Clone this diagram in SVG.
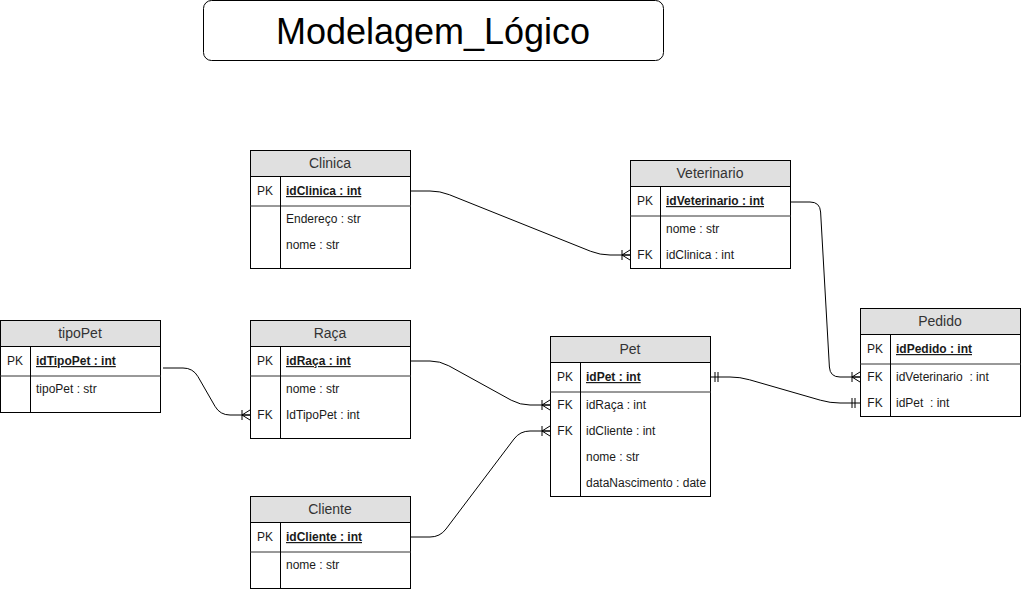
<svg xmlns="http://www.w3.org/2000/svg" width="1021" height="590" viewBox="0 0 1021 590">
<style>
  text { font-family: "Liberation Sans", Arial, sans-serif; fill: #1a1a1a; }
  .box { fill: #ffffff; stroke: #000; stroke-width: 1; }
  .hdr { fill: #e0e0e0; stroke: none; }
  .sep { stroke: #333; stroke-width: 1; fill: none; }
  .div { stroke: #000; stroke-width: 1; fill: none; }
  .ht { font-size: 14px; text-anchor: middle; fill: #333; }
  .k { font-size: 12px; text-anchor: middle; }
  .r { font-size: 12px; white-space: pre; }
  .pk { font-size: 12px; font-weight: bold; text-decoration: underline; }
  .title { font-size: 36px; text-anchor: middle; fill: #000; }
  .edge { fill: none; stroke: #000; stroke-width: 1; }
</style>
<defs>
  <marker id="many" markerUnits="userSpaceOnUse" markerWidth="12" markerHeight="12" refX="0" refY="0" orient="auto" style="overflow:visible">
    <path d="M-8,-5 V5 M0,-5 L-8,0 L0,5 M-8,0 H0" fill="none" stroke="#000" stroke-width="1"/>
  </marker>
  <marker id="one" markerUnits="userSpaceOnUse" markerWidth="12" markerHeight="12" refX="0" refY="0" orient="auto-start-reverse" style="overflow:visible">
    <path d="M-5,-5 V5 M-8,-5 V5" fill="none" stroke="#000" stroke-width="1"/>
  </marker>
</defs>

<g id="title">
  <rect x="203.5" y="0.5" width="460" height="60" rx="8" ry="8" class="box"/>
  <text x="433" y="44" class="title">Modelagem_Lógico</text>
</g>

<g id="connectors">
  <path class="edge" marker-end="url(#many)" d="M410,191 H430 Q440,191 449.3,194.7 L590.7,251.3 Q600,255 610,255 H630"/>
  <path class="edge" marker-end="url(#many)" d="M790,202 H810 Q820,202 820.6,212 L829.4,367 Q830,377 840,377 H860"/>
  <path class="edge" marker-end="url(#many)" d="M163,368 H183 Q193,368 198,376.7 L215,406.3 Q220,415 230,415 H250"/>
  <path class="edge" marker-end="url(#many)" d="M410,361 H430 Q440,361 448.8,365.8 L511.2,400.2 Q520,405 530,405 H550"/>
  <path class="edge" marker-end="url(#many)" d="M410,537 H430 Q440,537 446,529 L514,439 Q520,431 530,431 H550"/>
  <path class="edge" marker-start="url(#one)" marker-end="url(#one)" d="M710,377 H730 Q740,377 749.6,379.8 L820.4,400.2 Q830,403 840,403 H860"/>
</g>

<g id="clinica">
  <rect x="250.5" y="150.5" width="160" height="118" class="box"/>
  <rect x="251" y="151" width="159" height="25.5" class="hdr"/>
  <line x1="250" y1="176.5" x2="411" y2="176.5" class="div"/>
  <line x1="250" y1="206" x2="411" y2="206" class="sep"/>
  <line x1="280.5" y1="176.5" x2="280.5" y2="268.5" class="div"/>
  <text x="330" y="168" class="ht">Clinica</text>
  <text x="265" y="195" class="k">PK</text>
  <text x="286" y="195" class="pk">idClinica : int</text>
  <text x="286" y="223" class="r">Endereço : str</text>
  <text x="286" y="249" class="r">nome : str</text>
</g>

<g id="veterinario">
  <rect x="630.5" y="160.5" width="160" height="108" class="box"/>
  <rect x="631" y="161" width="159" height="25.5" class="hdr"/>
  <line x1="630" y1="186.5" x2="791" y2="186.5" class="div"/>
  <line x1="630" y1="216" x2="791" y2="216" class="sep"/>
  <line x1="660.5" y1="186.5" x2="660.5" y2="268.5" class="div"/>
  <text x="710" y="178" class="ht">Veterinario</text>
  <text x="645" y="205" class="k">PK</text>
  <text x="666" y="205" class="pk">idVeterinario : int</text>
  <text x="666" y="233" class="r">nome : str</text>
  <text x="645" y="259" class="k">FK</text>
  <text x="666" y="259" class="r">idClinica : int</text>
</g>

<g id="tipoPet">
  <rect x="0.5" y="320.5" width="160" height="92" class="box"/>
  <rect x="1" y="321" width="159" height="25.5" class="hdr"/>
  <line x1="0" y1="346.5" x2="161" y2="346.5" class="div"/>
  <line x1="0" y1="376" x2="161" y2="376" class="sep"/>
  <line x1="30.5" y1="346.5" x2="30.5" y2="412.5" class="div"/>
  <text x="80" y="338" class="ht">tipoPet</text>
  <text x="15" y="365" class="k">PK</text>
  <text x="36" y="365" class="pk">idTipoPet : int</text>
  <text x="36" y="393" class="r">tipoPet : str</text>
</g>

<g id="raca">
  <rect x="250.5" y="320.5" width="160" height="118" class="box"/>
  <rect x="251" y="321" width="159" height="25.5" class="hdr"/>
  <line x1="250" y1="346.5" x2="411" y2="346.5" class="div"/>
  <line x1="250" y1="376" x2="411" y2="376" class="sep"/>
  <line x1="280.5" y1="346.5" x2="280.5" y2="438.5" class="div"/>
  <text x="330" y="338" class="ht">Raça</text>
  <text x="265" y="365" class="k">PK</text>
  <text x="286" y="365" class="pk">idRaça : int</text>
  <text x="286" y="393" class="r">nome : str</text>
  <text x="265" y="419" class="k">FK</text>
  <text x="286" y="419" class="r">IdTipoPet : int</text>
</g>

<g id="pet">
  <rect x="550.5" y="336.5" width="160" height="160" class="box"/>
  <rect x="551" y="337" width="159" height="25.5" class="hdr"/>
  <line x1="550" y1="362.5" x2="711" y2="362.5" class="div"/>
  <line x1="550" y1="392" x2="711" y2="392" class="sep"/>
  <line x1="580.5" y1="362.5" x2="580.5" y2="496.5" class="div"/>
  <text x="630" y="354" class="ht">Pet</text>
  <text x="565" y="381" class="k">PK</text>
  <text x="586" y="381" class="pk">idPet : int</text>
  <text x="565" y="409" class="k">FK</text>
  <text x="586" y="409" class="r">idRaça : int</text>
  <text x="565" y="435" class="k">FK</text>
  <text x="586" y="435" class="r">idCliente : int</text>
  <text x="586" y="461" class="r">nome : str</text>
  <text x="586" y="487" class="r">dataNascimento : date</text>
</g>

<g id="pedido">
  <rect x="860.5" y="308.5" width="160" height="108" class="box"/>
  <rect x="861" y="309" width="159" height="25.5" class="hdr"/>
  <line x1="860" y1="334.5" x2="1021" y2="334.5" class="div"/>
  <line x1="860" y1="364" x2="1021" y2="364" class="sep"/>
  <line x1="890.5" y1="334.5" x2="890.5" y2="416.5" class="div"/>
  <text x="940" y="326" class="ht">Pedido</text>
  <text x="875" y="353" class="k">PK</text>
  <text x="896" y="353" class="pk">idPedido : int</text>
  <text x="875" y="381" class="k">FK</text>
  <text x="896" y="381" class="r" xml:space="preserve">idVeterinario  : int</text>
  <text x="875" y="407" class="k">FK</text>
  <text x="896" y="407" class="r" xml:space="preserve">idPet  : int</text>
</g>

<g id="cliente">
  <rect x="250.5" y="496.5" width="160" height="92" class="box"/>
  <rect x="251" y="497" width="159" height="25.5" class="hdr"/>
  <line x1="250" y1="522.5" x2="411" y2="522.5" class="div"/>
  <line x1="250" y1="552" x2="411" y2="552" class="sep"/>
  <line x1="280.5" y1="522.5" x2="280.5" y2="588.5" class="div"/>
  <text x="330" y="514" class="ht">Cliente</text>
  <text x="265" y="541" class="k">PK</text>
  <text x="286" y="541" class="pk">idCliente : int</text>
  <text x="286" y="569" class="r">nome : str</text>
</g>
</svg>
